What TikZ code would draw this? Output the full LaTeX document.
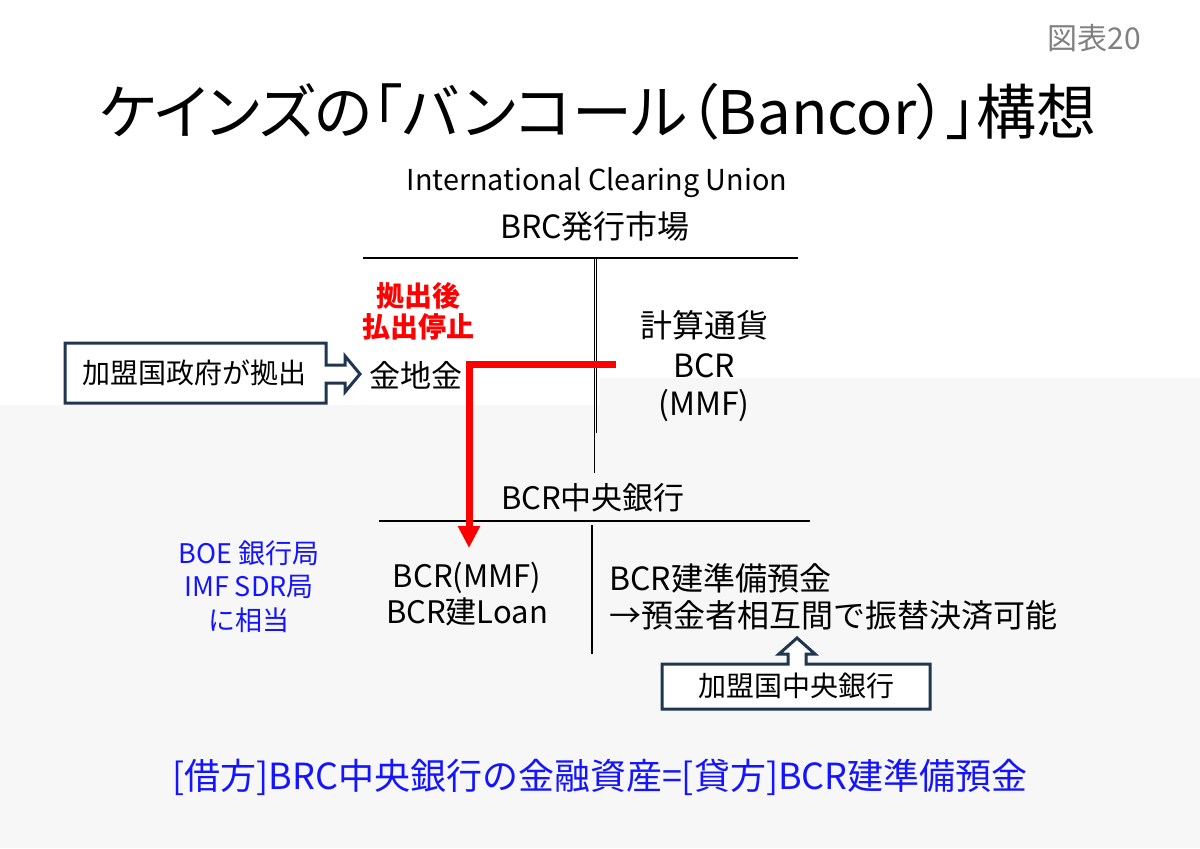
\documentclass[tikz,border=0pt]{standalone}
\usepackage{fontspec}
\setmainfont{Noto Sans CJK JP}
\newfontfamily\titlefont[RawFeature=+palt]{Noto Sans CJK JP}
\usetikzlibrary{arrows.meta,positioning}
\definecolor{navy}{HTML}{1F3550}
\definecolor{paper}{HTML}{F7F7F7}
\definecolor{figgray}{HTML}{808080}
\definecolor{bluetxt}{HTML}{1414FF}
\tikzset{
  bodytxt/.style   = {inner sep=0pt, font=\fontsize{15.5}{18}\selectfont},
  bigtxt/.style    = {inner sep=0pt, font=\fontsize{16}{19}\selectfont},
  smalltxt/.style  = {inner sep=0pt, font=\fontsize{14}{17}\selectfont},
  redtxt/.style    = {inner sep=0pt, red, font=\fontsize{14}{17}\selectfont\bfseries},
  bluenote/.style  = {inner sep=0pt, bluetxt, font=\fontsize{13.5}{16}\selectfont},
  ledger/.style    = {black, line width=0.75pt},
  callout/.style   = {navy, line width=1.5pt, fill=white, line join=miter},
  flow/.style      = {red, line width=3.5pt, -{Triangle[width=10.5pt,length=11pt]}},
}

\begin{document}
\begin{tikzpicture}[x=0.5pt,y=-0.5pt]
    \useasboundingbox (0,0) rectangle (1200,848);
    \fill[white] (0,0) rectangle (1200,848);
    \fill[paper] (0,848) -- (0,405) -- (600,405) -- (600,378) -- (1200,378) -- (1200,848) -- cycle;

    % heading
    \node[inner sep=0pt, figgray, font=\fontsize{15}{18}\selectfont] (fig) at (1094,38) {図表20};
    \node[inner sep=0pt, font=\fontsize{30}{36}\titlefont] (title) at (598,112) {ケインズの「バンコール（Bancor）」構想};

    % upper ledger
    \node[inner sep=0pt, font=\fontsize{14.4}{17}\selectfont] (icu) at (597,183) {International Clearing Union};
    \node[bigtxt] (brcmkt) at (595,226) {BRC発行市場};
    \draw[ledger] (363,258) -- (798,258);
    \draw[ledger, line width=0.6pt] (594.5,258) -- (594.5,473);
    \draw[ledger, line width=0.6pt] (596.5,258) -- (596.5,433);

    \node[redtxt] (stop1) at (418,296) {拠出後};
    \node[redtxt] (stop2) at (418,327) {払出停止};
    \node[inner sep=0pt, font=\fontsize{15.5}{18}\selectfont] (gold) at (416,375) {金地金};
    \node[bigtxt] (unit) at (704,325) {計算通貨};
    \node[bigtxt] (bcr) at (704,366) {BCR};
    \node[bigtxt] (mmf) at (704,406) {(MMF)};

    % government callout
    \draw[callout] (65,343) -- (326,343) -- (326,365) -- (345,365) -- (345,356)
        -- (360,374) -- (345,392) -- (345,383) -- (326,383) -- (326,403) -- (65,403) -- cycle;
    \node[smalltxt] (govt) at (195,373) {加盟国政府が拠出};

    % lower ledger
    \node[bodytxt] (cbank) at (593,498) {BCR中央銀行};
    \draw[ledger] (379,521) -- (810,521);
    \draw[ledger, line width=0.6pt] (592,525) -- (592,654);

    \node[bodytxt] (asset1) at (467,578) {BCR(MMF)};
    \node[bodytxt] (asset2) at (467,612) {BCR建Loan};
    \node[bigtxt, anchor=west] (liab1) at (609,578) {BCR建準備預金};
    \node[bigtxt, anchor=west] (liab2) at (609,615) {→預金者相互間で振替決済可能};

    \node[bluenote] (boe) at (249,553) {BOE 銀行局};
    \node[bluenote] (imf) at (249,587) {IMF SDR局};
    \node[bluenote] (equiv) at (249,620) {に相当};

    % member central bank callout
    \draw[callout] (662,664) -- (788,664) -- (788,654) -- (779,654) -- (797,638)
        -- (815,654) -- (806,654) -- (806,664) -- (930,664) -- (930,709) -- (662,709) -- cycle;
    \node[smalltxt] (member) at (796,686) {加盟国中央銀行};

    % red flow
    \coordinate (flowstart) at (616,364);
    \coordinate (flowend) at (469,548);
    \draw[flow] (flowstart) -| (flowend);

    \node[inner sep=0pt, bluetxt, font=\fontsize{18}{22}\selectfont] (balance) at (600,777) {[借方]BRC中央銀行の金融資産=[貸方]BCR建準備預金};
\end{tikzpicture}
\end{document}
